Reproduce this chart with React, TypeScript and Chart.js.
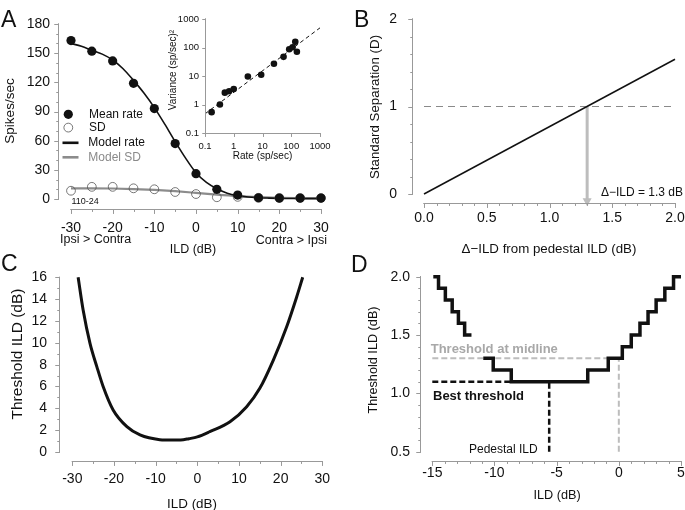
import React, { useCallback, useEffect, useRef, useState } from 'react';
import { Chart, registerables } from 'chart.js';
Chart.register(...registerables);

const W = 685, H = 510;
const FONT = '"Liberation Sans", Arial, Helvetica, sans-serif';
const INK = '#111111';
const AXIS = '#999999';
const GREY_LINE = '#8c8c8c';
const LIGHT = '#bdbdbd';

// ---------- Panel A: rate vs ILD ----------
const ildA = [-30, -25, -20, -15, -10, -5, 0, 5, 10, 15, 20, 25, 30];
const meanRate = [163, 152, 142, 119, 93, 57, 26, 10, 4, 1.3, 1, 1, 1];
const sdRate = [8.5, 12.5, 12.5, 11, 10, 7.2, 5.1, 1.8, 2.2, 1.2, 1, 1, 1];
const modelX = [-30, -27.5, -25, -22.5, -20, -17.5, -15, -12.5, -10, -7.5, -5, -2.5, 0, 2.5, 5, 7.5, 10, 12.5, 15, 17.5, 20, 22.5, 25, 27.5, 30];
const modelRate = [160, 157, 153, 149, 143, 134, 122, 109, 94, 77, 59, 42, 27, 17, 10.5, 6, 3.5, 2, 1.3, 0.9, 0.6, 0.5, 0.4, 0.4, 0.4];
const modelSdX = [-30, -25, -20, -15, -10, -5, 0, 5, 10, 15, 20, 25, 30];
const modelSd = [11, 11, 10.8, 10.2, 9.3, 8, 6.3, 4.5, 3, 2, 1.3, 1, 0.8];
const legendA = ['Mean rate', 'SD', 'Model rate', 'Model SD'];

// ---------- Inset: variance vs rate ----------
const insetRate = [0.17, 0.33, 0.49, 0.69, 1.0, 3.1, 9, 25, 54, 85, 111, 138, 157];
const insetVar = [0.54, 1.0, 2.6, 2.9, 3.5, 9.6, 11, 27, 47, 87, 102, 158, 71];
const fitRate = [0.1, 1000];
const fitVar = [0.47, 490];
const decades = [0.1, 1, 10, 100, 1000];

// ---------- Panel B: standard separation ----------
const deltaILD = [0, 2.0];
const separation = [0, 1.54];
const criterionX = [0, 2.0];
const criterionD = [1, 1];
const thresholdDelta = 1.3;

// ---------- Panel C: threshold vs ILD ----------
const ildC = [-28.6, -27.4, -25.75, -24.1, -22.6, -20.2, -16.9, -13.75, -9, -6, -4, -2, 0, 3, 7.85, 11.85, 15, 18.25, 21.45, 23.85, 25.3];
const thrC = [16, 13, 9.95, 7.8, 6, 3.85, 2.32, 1.56, 1.13, 1.09, 1.1, 1.22, 1.38, 1.86, 2.77, 4.15, 5.83, 8.42, 11.47, 14.2, 16];

// ---------- Panel D: quantised thresholds ----------
const leftStepX = [-14.92, -14.5, -13.95, -13.4, -12.9, -12.4, -11.85];
const leftStepY = [2.0, 1.9, 1.8, 1.7, 1.6, 1.5, 1.5];
const mainStepX = [-10.9, -10.1, -8.65, -2.5, -0.85, 0.28, 1.0, 1.7, 2.35, 3.0, 3.7, 4.4, 5.0];
const mainStepY = [1.3, 1.2, 1.1, 1.2, 1.3, 1.4, 1.5, 1.6, 1.7, 1.8, 1.9, 2.0, 2.0];
const bestThreshold = 1.1;
const pedestalILD = -5.6;
const midlineThreshold = 1.3;

type Pt = { x: number; y: number | null };
const pts = (xs: number[], ys: number[]): Pt[] => xs.map((x, i) => ({ x, y: ys[i] }));
const range = (a: number, b: number, s: number) => {
  const out: number[] = [];
  for (let v = a; v <= b + 1e-9; v += s) out.push(+v.toFixed(6));
  return out;
};

type Box = { l: number; t: number; r: number; b: number };
type AxisRange = { min: number; max: number; log?: boolean };
type SpineSide = { offset: number; min: number; max: number; major: number[]; minor: number[] };
type SpineSpec = { x: SpineSide; y: SpineSide; majLen: number; minLen: number };

// spine specifications (detached axes, major + minor tick marks)
const spinesA: SpineSpec = {
  x: { offset: 10, min: -30, max: 30, major: range(-30, 30, 10), minor: range(-30, 30, 5) },
  y: { offset: 13, min: 0, max: 180, major: range(0, 180, 30), minor: range(0, 180, 10) }, majLen: 4, minLen: 2,
};
const spinesI: SpineSpec = {
  x: { offset: 0, min: 0.1, max: 1000, major: decades, minor: [] },
  y: { offset: 0, min: 0.1, max: 1000, major: decades, minor: [] }, majLen: 3, minLen: 2,
};
const spinesB: SpineSpec = {
  x: { offset: 9, min: 0, max: 2, major: range(0, 2, 0.5), minor: range(0, 2, 0.1) },
  y: { offset: 12.3, min: 0, max: 2, major: range(0, 2, 1), minor: range(0, 2, 0.2) }, majLen: 4, minLen: 2,
};
const spinesC: SpineSpec = {
  x: { offset: 8.7, min: -30, max: 30, major: range(-30, 30, 10), minor: range(-30, 30, 5) },
  y: { offset: 13, min: 0, max: 16, major: range(0, 16, 2), minor: range(0, 16, 1) }, majLen: 4, minLen: 2,
};
const spinesD: SpineSpec = {
  x: { offset: 9, min: -15, max: 5, major: range(-15, 5, 5), minor: range(-15, 5, 1) },
  y: { offset: 12.3, min: 0.5, max: 2, major: range(0.5, 2, 0.5), minor: range(0.5, 2, 0.1) }, majLen: 4, minLen: 2,
};

function txt(ctx: CanvasRenderingContext2D, s: string, x: number, y: number, size: number,
  o: { weight?: string; color?: string; align?: CanvasTextAlign; rot?: number; base?: CanvasTextBaseline } = {}) {
  ctx.save();
  ctx.font = `${o.weight ?? 'normal'} ${size}px ${FONT}`;
  ctx.fillStyle = o.color ?? INK;
  ctx.textAlign = o.align ?? 'center';
  ctx.textBaseline = o.base ?? 'middle';
  ctx.translate(x, y);
  if (o.rot) ctx.rotate(o.rot);
  ctx.fillText(s, 0, 0);
  ctx.restore();
}

function mkMap(a: AxisRange, p0: number, p1: number) {
  const f = (v: number) => (a.log ? Math.log10(v) : v);
  const lo = f(a.min), hi = f(a.max);
  return {
    toPx: (v: number) => p0 + ((f(v) - lo) / (hi - lo)) * (p1 - p0),
    toVal: (p: number) => {
      const t = lo + ((p - p0) / (p1 - p0)) * (hi - lo);
      return a.log ? Math.pow(10, t) : t;
    },
  };
}

// spine segments in pixel space: [x1, y1, x2, y2]
function spinePixelSegs(toX: (v: number) => number, toY: (v: number) => number, box: Box, sp: SpineSpec): number[][] {
  const segs: number[][] = [];
  const y0 = Math.round(box.b + sp.x.offset) + 0.5;
  segs.push([toX(sp.x.min) - 0.5, y0, toX(sp.x.max) + 0.5, y0]);
  sp.x.minor.forEach((v) => { const p = Math.round(toX(v)) + 0.5; segs.push([p, y0, p, y0 + sp.minLen]); });
  sp.x.major.forEach((v) => { const p = Math.round(toX(v)) + 0.5; segs.push([p, y0, p, y0 + sp.majLen]); });
  const x0 = Math.round(box.l - sp.y.offset) + 0.5;
  segs.push([x0, toY(sp.y.min) + 0.5, x0, toY(sp.y.max) - 0.5]);
  sp.y.minor.forEach((v) => { const p = Math.round(toY(v)) + 0.5; segs.push([x0, p, x0 - sp.minLen, p]); });
  sp.y.major.forEach((v) => { const p = Math.round(toY(v)) + 0.5; segs.push([x0, p, x0 - sp.majLen, p]); });
  return segs;
}

// the same spines as a line dataset of the chart itself
function spineDs(box: Box, xa: AxisRange, ya: AxisRange, sp: SpineSpec) {
  const X = mkMap(xa, box.l, box.r), Y = mkMap(ya, box.b, box.t);
  const out: Pt[] = [];
  spinePixelSegs(X.toPx, Y.toPx, box, sp).forEach(([x1, y1, x2, y2]) => {
    out.push({ x: X.toVal(x1), y: Y.toVal(y1) }, { x: X.toVal(x2), y: Y.toVal(y2) }, { x: X.toVal(x2), y: null });
  });
  return {
    data: out, showLine: true, spanGaps: false, borderColor: AXIS, borderWidth: 1,
    borderCapStyle: 'butt', pointRadius: 0, clip: false, order: 10,
  };
}

function axisOpts(box: Box, which: 'x' | 'y', o: any) {
  const common: any = {
    type: o.type ?? 'linear', min: o.min, max: o.max,
    grid: { display: false, drawOnChartArea: false, drawTicks: true, tickLength: o.pad },
    border: { display: false },
  };
  if (o.fixed) common.afterBuildTicks = (s: any) => { s.ticks = o.fixed.map((v: number) => ({ value: v })); };
  const ticks: any = { stepSize: o.step, padding: 0, color: INK, font: { family: FONT, size: o.size ?? 14 }, autoSkip: false, callback: o.cb };
  if (which === 'x') {
    ticks.maxRotation = 0;
    return { ...common, afterFit: (s: any) => { s.height = H - box.b; }, ticks };
  }
  return { ...common, afterFit: (s: any) => { s.width = box.l; }, ticks };
}

function baseOptions(box: Box, x: any, y: any) {
  return {
    responsive: false,
    animation: false,
    layout: { padding: { left: 0, top: box.t, right: W - box.r, bottom: 0 } },
    plugins: { legend: { display: false }, tooltip: { enabled: false } },
    scales: { x: axisOpts(box, 'x', x), y: axisOpts(box, 'y', y) },
  };
}

const lineDs = (data: Pt[], color: string, width: number, extra: any = {}) => ({
  data, showLine: true, borderColor: color, borderWidth: width, pointRadius: 0, clip: false, ...extra,
});

// ---------- Panel A ----------
const boxA: Box = { l: 71, t: 24, r: 321, b: 199 };
function configA() {
  const xa = { min: -30, max: 30 }, ya = { min: 0, max: 180 };
  return {
    type: 'scatter',
    data: {
      datasets: [
        { label: legendA[0], data: pts(ildA, meanRate), pointRadius: 4.6, pointBackgroundColor: INK, pointBorderColor: INK, pointBorderWidth: 0, showLine: false, clip: false },
        { label: legendA[1], data: pts(ildA, sdRate), pointRadius: 4.4, pointBackgroundColor: 'rgba(255,255,255,0)', pointBorderColor: '#555', pointBorderWidth: 0.8, showLine: false, clip: false },
        lineDs(pts(modelX, modelRate), INK, 1.6, { label: legendA[2], cubicInterpolationMode: 'monotone' }),
        lineDs(pts(modelSdX, modelSd), GREY_LINE, 2.2, { label: legendA[3], cubicInterpolationMode: 'monotone' }),
        spineDs(boxA, xa, ya, spinesA),
      ],
    },
    options: baseOptions(boxA, { ...xa, step: 10, pad: 20.6 }, { ...ya, step: 30, pad: 21 }),
    plugins: [{
      id: 'panelA',
      afterDraw(chart: any) {
        const ctx = chart.ctx;
        txt(ctx, 'A', 1, 26.7, 23, { align: 'left', base: 'alphabetic' });
        txt(ctx, 'Spikes/sec', 10, 111, 13.5, { rot: -Math.PI / 2 });
        txt(ctx, 'ILD (dB)', 193, 250, 12.5);
        txt(ctx, 'Ipsi > Contra', 60, 240, 12.5, { align: 'left' });
        txt(ctx, 'Contra > Ipsi', 327, 240.5, 12.5, { align: 'right' });
        txt(ctx, '110-24', 71.5, 202, 9, { align: 'left' });
        ctx.save();
        ctx.fillStyle = INK;
        ctx.beginPath(); ctx.arc(68.3, 114.3, 4.6, 0, Math.PI * 2); ctx.fill();
        ctx.strokeStyle = '#555'; ctx.lineWidth = 0.8;
        ctx.beginPath(); ctx.arc(68.3, 127.6, 4.4, 0, Math.PI * 2); ctx.stroke();
        ctx.fillStyle = INK;
        ctx.fillRect(62.5, 141.5, 16, 2.6);
        ctx.fillStyle = GREY_LINE;
        ctx.fillRect(62.5, 156, 16, 2.6);
        ctx.restore();
        txt(ctx, legendA[0], 89, 114.5, 12, { align: 'left' });
        txt(ctx, legendA[1], 89, 128, 12, { align: 'left' });
        txt(ctx, legendA[2], 88.3, 143, 12, { align: 'left' });
        txt(ctx, legendA[3], 88.3, 157.5, 12, { align: 'left', color: '#8a8a8a' });
      },
    }],
  };
}

// ---------- Inset ----------
const boxI: Box = { l: 205, t: 19, r: 320, b: 133 };
function configInset() {
  const la = { min: 0.1, max: 1000, log: true };
  const opts: any = baseOptions(boxI,
    { type: 'logarithmic', min: 0.1, max: 1000, fixed: decades, pad: 7.3, size: 9.5, cb: (v: number) => String(v) },
    { type: 'logarithmic', min: 0.1, max: 1000, fixed: decades, pad: 6, size: 9.5, cb: (v: number) => String(v) });
  return {
    type: 'scatter',
    data: {
      datasets: [
        { data: pts(insetRate, insetVar), pointRadius: 3.3, pointBackgroundColor: INK, pointBorderWidth: 0, showLine: false, clip: false },
        lineDs(pts(fitRate, fitVar), INK, 1, { borderDash: [4, 3] }),
        spineDs(boxI, la, la, spinesI),
      ],
    },
    options: opts,
    plugins: [{
      id: 'inset',
      afterDraw(chart: any) {
        const ctx = chart.ctx;
        txt(ctx, 'Variance (sp/sec)\u00B2', 173, 70, 10, { rot: -Math.PI / 2 });
        txt(ctx, 'Rate (sp/sec)', 262.5, 156, 10);
      },
    }],
  };
}

// ---------- Panel B ----------
const boxB: Box = { l: 424, t: 19, r: 675, b: 194 };
function configB() {
  const xa = { min: 0, max: 2 }, ya = { min: 0, max: 2 };
  return {
    type: 'scatter',
    data: {
      datasets: [
        lineDs(pts(deltaILD, separation), INK, 1.5),
        lineDs(pts([thresholdDelta, thresholdDelta], [criterionD[0], -0.06]), LIGHT, 3),
        lineDs(pts(criterionX, criterionD), '#8a8a8a', 1.2, { borderDash: [7, 5] }),
        spineDs(boxB, xa, ya, spinesB),
      ],
    },
    options: baseOptions(boxB,
      { ...xa, step: 0.5, pad: 15.9, cb: (v: number) => v.toFixed(1) },
      { ...ya, step: 1, pad: 27 }),
    plugins: [{
      id: 'panelB',
      afterDraw(chart: any) {
        const ctx = chart.ctx;
        txt(ctx, 'B', 354, 26.7, 23, { align: 'left', base: 'alphabetic' });
        txt(ctx, 'Standard Separation (D)', 375, 107, 13.3, { rot: -Math.PI / 2 });
        txt(ctx, '\u0394\u2212ILD from pedestal ILD (dB)', 549, 249, 13.3);
        txt(ctx, '\u0394\u2212ILD = 1.3 dB', 683, 193, 12, { align: 'right' });
        const px = chart.scales.x.getPixelForValue(thresholdDelta);
        const py = chart.scales.y.getPixelForValue(-0.06);
        ctx.save();
        ctx.fillStyle = LIGHT;
        ctx.beginPath();
        ctx.moveTo(px - 4.5, py - 1);
        ctx.lineTo(px + 4.5, py - 1);
        ctx.lineTo(px, py + 7);
        ctx.closePath();
        ctx.fill();
        ctx.restore();
      },
    }],
  };
}

// ---------- Panel C ----------
const boxC: Box = { l: 72.3, t: 277.3, r: 322.3, b: 452 };
function configC() {
  const xa = { min: -30, max: 30 }, ya = { min: 0, max: 16 };
  return {
    type: 'scatter',
    data: {
      datasets: [
        lineDs(pts(ildC, thrC), INK, 3, { cubicInterpolationMode: 'monotone' }),
        spineDs(boxC, xa, ya, spinesC),
      ],
    },
    options: baseOptions(boxC, { ...xa, step: 10, pad: 18.6 }, { ...ya, step: 2, pad: 25.3 }),
    plugins: [{
      id: 'panelC',
      afterDraw(chart: any) {
        const ctx = chart.ctx;
        txt(ctx, 'C', 1, 270.7, 23, { align: 'left', base: 'alphabetic' });
        txt(ctx, 'Threshold ILD (dB)', 18, 354, 15.5, { rot: -Math.PI / 2 });
        txt(ctx, 'ILD (dB)', 192, 504, 13.4);
      },
    }],
  };
}

// ---------- Panel D ----------
const boxD: Box = { l: 432.3, t: 276.7, r: 681, b: 451.7 };
function configD() {
  const xa = { min: -15, max: 5 }, ya = { min: 0.5, max: 2 };
  const step = { stepped: 'before', borderJoinStyle: 'miter', borderCapStyle: 'butt' };
  return {
    type: 'scatter',
    data: {
      datasets: [
        lineDs(pts(leftStepX, leftStepY), INK, 3.5, step),
        lineDs(pts(mainStepX, mainStepY), INK, 3.5, step),
        lineDs(pts([-15, mainStepX[2]], [bestThreshold, bestThreshold]), INK, 2.5, { borderDash: [6, 3] }),
        lineDs(pts([pedestalILD, pedestalILD], [0.5, bestThreshold]), INK, 2.5, { borderDash: [6, 3] }),
        lineDs(pts([-15, 0], [midlineThreshold, midlineThreshold]), LIGHT, 2, { borderDash: [6, 3] }),
        lineDs(pts([0, 0], [0.5, midlineThreshold]), LIGHT, 2, { borderDash: [6, 3] }),
        spineDs(boxD, xa, ya, spinesD),
      ],
    },
    options: baseOptions(boxD,
      { ...xa, step: 5, pad: 12.9 },
      { ...ya, step: 0.5, pad: 22.3, cb: (v: number) => v.toFixed(1) }),
    plugins: [{
      id: 'panelD',
      afterDraw(chart: any) {
        const ctx = chart.ctx;
        txt(ctx, 'D', 351, 271.7, 23, { align: 'left', base: 'alphabetic' });
        txt(ctx, 'Threshold ILD (dB)', 373, 360, 12.7, { rot: -Math.PI / 2 });
        txt(ctx, 'ILD (dB)', 557, 495, 12.7);
        txt(ctx, 'Threshold at midline', 430.7, 349, 13, { align: 'left', weight: 'bold', color: '#a8a8a8' });
        txt(ctx, 'Best threshold', 433, 396, 13, { align: 'left', weight: 'bold' });
        txt(ctx, 'Pedestal ILD', 469, 450, 12, { align: 'left' });
      },
    }],
  };
}

type PanelDef = { make: () => any; spines: SpineSpec };
const panels: PanelDef[] = [
  { make: configA, spines: spinesA },
  { make: configB, spines: spinesB },
  { make: configC, spines: spinesC },
  { make: configD, spines: spinesD },
  { make: configInset, spines: spinesI },
];

function ChartCanvas({ def, idx, onSpines }: { def: PanelDef; idx: number; onSpines: (i: number, s: number[][]) => void }) {
  const ref = useRef<HTMLCanvasElement>(null);
  useEffect(() => {
    const chart: any = new Chart(ref.current as HTMLCanvasElement, def.make());
    const ca = chart.chartArea;
    const xs = chart.scales.x, ys = chart.scales.y;
    if (ca && xs && ys) {
      const box = { l: ca.left, t: ca.top, r: ca.right, b: ca.bottom };
      onSpines(idx, spinePixelSegs((v) => xs.getPixelForValue(v), (v) => ys.getPixelForValue(v), box, def.spines));
    }
    return () => chart.destroy();
  }, []);
  return (
    <canvas ref={ref} width={W} height={H}
      style={{ position: 'absolute', left: 0, top: 0, width: W, height: H }} />
  );
}

export default function App() {
  const [segs, setSegs] = useState<Record<number, number[][]>>({});
  const onSpines = useCallback((i: number, s: number[][]) => {
    setSegs((prev) => ({ ...prev, [i]: s }));
  }, []);
  const all = Object.keys(segs).flatMap((k) => segs[+k]);
  return (
    <div style={{ position: 'fixed', left: 0, top: 0, width: W, height: H, background: '#fff', overflow: 'hidden' }}>
      {panels.map((p, i) => <ChartCanvas key={i} def={p} idx={i} onSpines={onSpines} />)}
      <svg width={W} height={H} style={{ position: 'absolute', left: 0, top: 0, pointerEvents: 'none' }}>
        {all.map((s, k) => (
          <line key={k} x1={s[0]} y1={s[1]} x2={s[2]} y2={s[3]} stroke={AXIS} strokeWidth={1} />
        ))}
      </svg>
    </div>
  );
}
